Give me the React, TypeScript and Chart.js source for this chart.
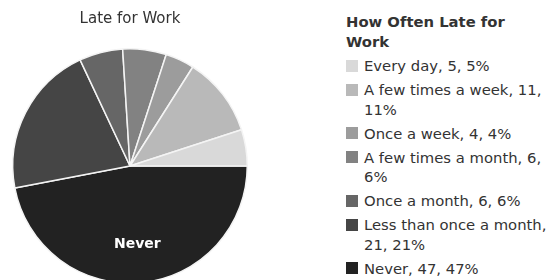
import React, { useEffect, useRef } from "react";
import { Chart, registerables } from "chart.js";

Chart.register(...registerables);

const categories = [
  "Every day",
  "A few times a week",
  "Once a week",
  "A few times a month",
  "Once a month",
  "Less than once a month",
  "Never",
];
const counts = [5, 11, 4, 6, 6, 21, 47];
const colors = ["#d9d9d9", "#b9b9b9", "#9c9c9c", "#828282", "#666666", "#454545", "#222222"];
const chartTitle = "Late for Work";
const legendTitle = "How Often Late for Work";
const sliceLabel = "Never";

const FONT = "'DejaVu Sans', Verdana, sans-serif";

export default function App() {
  const canvasRef = useRef<HTMLCanvasElement | null>(null);
  const total = counts.reduce((a, b) => a + b, 0);

  useEffect(() => {
    if (!canvasRef.current) return;
    // Drawn clockwise from east in reverse order => counter-clockwise order of categories
    const labelsR = [...categories].reverse();
    const valuesR = [...counts].reverse();
    const colorsR = [...colors].reverse();

    const labelPlugin = {
      id: "sliceLabel",
      afterDatasetsDraw(chart: any) {
        const meta = chart.getDatasetMeta(0);
        const idx = labelsR.indexOf(sliceLabel);
        const arc: any = meta.data[idx];
        if (!arc) return;
        const p = arc.getProps(["x", "y", "startAngle", "endAngle", "outerRadius"], true);
        const mid = (p.startAngle + p.endAngle) / 2;
        const d = p.outerRadius * 0.67;
        const ctx = chart.ctx;
        ctx.save();
        ctx.fillStyle = "#ffffff";
        ctx.font = `bold 14px ${FONT}`;
        ctx.textAlign = "center";
        ctx.textBaseline = "middle";
        ctx.fillText(sliceLabel, p.x + Math.cos(mid) * d, p.y + Math.sin(mid) * d);
        ctx.restore();
      },
    };

    const chart = new Chart(canvasRef.current, {
      type: "pie",
      data: {
        labels: labelsR,
        datasets: [
          {
            data: valuesR,
            backgroundColor: colorsR,
            borderColor: "#f4f4f4",
            borderWidth: 1.5,
          },
        ],
      },
      options: {
        animation: false,
        responsive: false,
        maintainAspectRatio: false,
        rotation: 90,
        layout: { padding: { left: 12, right: 14, top: 0, bottom: 16 } },
        plugins: {
          legend: { display: false },
          tooltip: { enabled: false },
          title: {
            display: true,
            text: chartTitle,
            color: "#333333",
            font: { family: FONT, size: 15, weight: "normal" },
            padding: { top: 10, bottom: 20 },
          },
        },
      },
      plugins: [labelPlugin],
    });
    return () => chart.destroy();
  }, []);

  return (
    <div
      style={{
        position: "fixed",
        left: 0,
        top: 0,
        width: 551,
        height: 280,
        overflow: "hidden",
        background: "#ffffff",
      }}
    >
      <canvas
        ref={canvasRef}
        width={262}
        height={300}
        style={{ position: "absolute", left: 0, top: 0, width: 262, height: 300 }}
      />
      <div
        style={{
          position: "absolute",
          left: 346,
          top: 12,
          width: 205,
          fontFamily: FONT,
          fontSize: 14.8,
          lineHeight: "19.5px",
          color: "#333333",
        }}
      >
        <div style={{ fontWeight: "bold", width: 175, marginBottom: 5 }}>{legendTitle}</div>
        {categories.map((c, i) => (
          <div key={c} style={{ display: "flex", alignItems: "flex-start", marginBottom: 4.5 }}>
            <span
              style={{
                flex: "0 0 12px",
                width: 12,
                height: 12,
                marginTop: 3.75,
                marginRight: 6,
                background: colors[i],
              }}
            />
            <span style={{ flex: "1 1 auto", width: 187 }}>
              {`${c}, ${counts[i]}, ${Math.round((counts[i] / total) * 100)}%`}
            </span>
          </div>
        ))}
      </div>
    </div>
  );
}
